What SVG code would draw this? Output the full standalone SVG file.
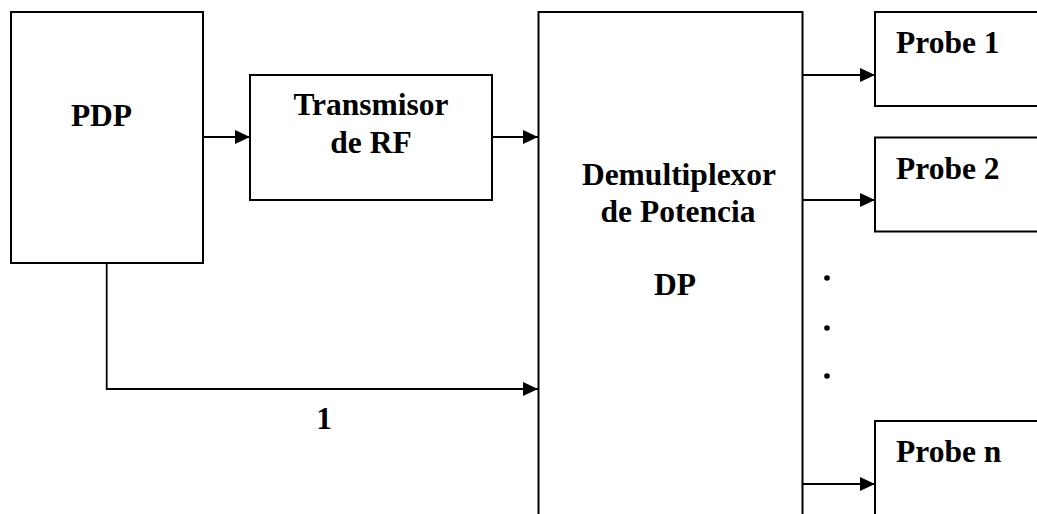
<svg xmlns="http://www.w3.org/2000/svg" width="1037" height="514" viewBox="0 0 1037 514">
<style>
.box{fill:#fff;stroke:#000;stroke-width:2}
.lbl{font-family:"Liberation Serif","Times New Roman",serif;font-weight:bold;font-size:31.5px;fill:#000}
.mid{text-anchor:middle}
.con{fill:none;stroke:#000;stroke-width:1.8}
</style>
<defs>
<marker id="arr" markerUnits="userSpaceOnUse" markerWidth="16" markerHeight="15" refX="15" refY="7" orient="auto">
<path d="M0,0 L15,7 L0,14 z" fill="#000"/>
</marker>
</defs>
<rect width="1037" height="514" fill="#fff"/>
<g id="connectors">
<line class="con" x1="203" y1="137" x2="250" y2="137" marker-end="url(#arr)"/>
<line class="con" x1="492" y1="137" x2="538" y2="137" marker-end="url(#arr)"/>
<path class="con" d="M106.7,263 V389 H538" marker-end="url(#arr)"/>
<line class="con" x1="803" y1="75" x2="875" y2="75" marker-end="url(#arr)"/>
<line class="con" x1="803" y1="200" x2="875" y2="200" marker-end="url(#arr)"/>
<line class="con" x1="803" y1="484" x2="875" y2="484" marker-end="url(#arr)"/>
<text class="lbl mid" x="324" y="429">1</text>
</g>
<g id="pdp">
<rect class="box" x="11" y="12" width="192" height="251"/>
<text class="lbl mid" x="101.5" y="126">PDP</text>
</g>
<g id="transmisor">
<rect class="box" x="250" y="75" width="242" height="125"/>
<text class="lbl mid" x="371" y="115">Transmisor</text>
<text class="lbl mid" x="371" y="153">de RF</text>
</g>
<g id="demux">
<rect class="box" x="538.5" y="12" width="264" height="520"/>
<text class="lbl mid" x="679" y="185">Demultiplexor</text>
<text class="lbl mid" x="678" y="222">de Potencia</text>
<text class="lbl mid" x="675" y="295">DP</text>
</g>
<g id="dots">
<circle cx="827" cy="278" r="2.8" fill="#000"/>
<circle cx="827" cy="328" r="2.8" fill="#000"/>
<circle cx="827" cy="376" r="2.8" fill="#000"/>
</g>
<g id="probe1">
<rect class="box" x="875" y="12" width="200" height="94"/>
<text class="lbl" x="896" y="53">Probe 1</text>
</g>
<g id="probe2">
<rect class="box" x="875" y="137.5" width="200" height="94"/>
<text class="lbl" x="896" y="179">Probe 2</text>
</g>
<g id="proben">
<rect class="box" x="875" y="421" width="200" height="120"/>
<text class="lbl" x="896" y="462">Probe n</text>
</g>
</svg>
